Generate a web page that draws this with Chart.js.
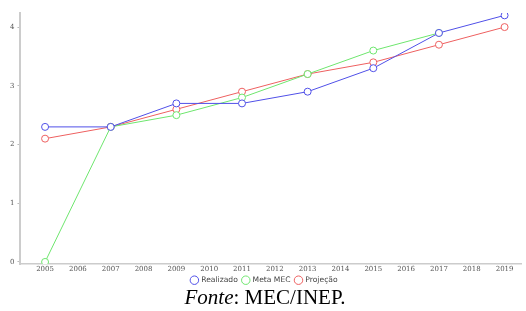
<!DOCTYPE html>
<html><head><meta charset="utf-8">
<script src="https://cdn.jsdelivr.net/npm/chart.js@4"></script>
<style>
html,body{margin:0;padding:0;background:#fff;width:526px;height:311px;overflow:hidden}
#wrap{position:absolute;left:0;top:0;width:526px;height:297px}
#cap{position:absolute;left:0;top:285px;width:530px;text-align:center;font-family:"Liberation Serif","Times New Roman",serif;font-size:21px;color:#000;line-height:25px}
</style></head><body>
<div id="wrap"><canvas id="c" width="526" height="297"></canvas></div>
<div id="cap"><i>Fonte</i>: MEC/INEP.</div>
<script>
const years = [2005, 2007, 2009, 2011, 2013, 2015, 2017, 2019];
const realizado = [2.3, 2.3, 2.7, 2.7, 2.9, 3.3, 3.9, 4.2];
const metaMEC = [0, 2.3, 2.5, 2.8, 3.2, 3.6, 3.9, null];
const projecao = [2.1, 2.3, 2.6, 2.9, 3.2, 3.4, 3.7, 4.0];
const seriesNames = ["Realizado", "Meta MEC", "Projeção"];
const tickYears = [2005,2006,2007,2008,2009,2010,2011,2012,2013,2014,2015,2016,2017,2018,2019];
const yTicks = [0, 1, 2, 3, 4];

function pts(vals){ return years.map((y,i)=>({x:y,y:vals[i]})).filter(p=>p.y!==null); }
const colors = ["#5050e8", "#6ee66e", "#ee6060"];
const ds = [realizado, metaMEC, projecao].map((v,i)=>({
  label: seriesNames[i], data: pts(v), borderColor: colors[i], backgroundColor: "#fff",
  borderWidth: 1, pointRadius: 3.5, pointBorderWidth: 1, pointBackgroundColor: "#fff",
  pointBorderColor: colors[i], tension: 0, fill: false
}));
const legendShift = { id: "legendShift", afterLayout(chart){ if (chart.legend){ chart.legend.top -= 3; chart.legend.bottom -= 3; } } };
new Chart(document.getElementById("c"), {
  type: "line",
  data: { datasets: ds },
  plugins: [legendShift],
  options: {
    responsive: false, animation: false,
    layout: { padding: { left: 7, right: 4, top: 13, bottom: 0 } },
    plugins: {
      legend: { position: "bottom", labels: { usePointStyle: true, pointStyle: "circle", boxWidth: 6, boxHeight: 6, padding: 5,
        font: { family: "DejaVu Sans", size: 7.6 }, color: "#444" } },
      tooltip: { enabled: false }
    },
    scales: {
      x: { type: "linear", min: 2004.25, max: 2019.5,
        afterBuildTicks: s => { s.ticks = tickYears.map(v=>({value:v})); },
        ticks: { callback: v => String(v), font: { family: "DejaVu Serif", size: 7 }, color: "#555", maxRotation: 0, autoSkip: false, padding: 1 },
        grid: { drawOnChartArea: false, drawTicks: false, color: "#bbb" },
        border: { color: "#ccc", width: 1.5 } },
      y: { type: "linear", min: -0.035, max: 4.24,
        afterBuildTicks: s => { s.ticks = yTicks.map(v=>({value:v})); },
        ticks: { font: { family: "DejaVu Serif", size: 7 }, color: "#555", padding: 3 },
        grid: { drawOnChartArea: false, tickLength: 3, color: "#bbb" },
        border: { color: "#ccc", width: 2 } }
    }
  }
});
</script>
</body></html>
